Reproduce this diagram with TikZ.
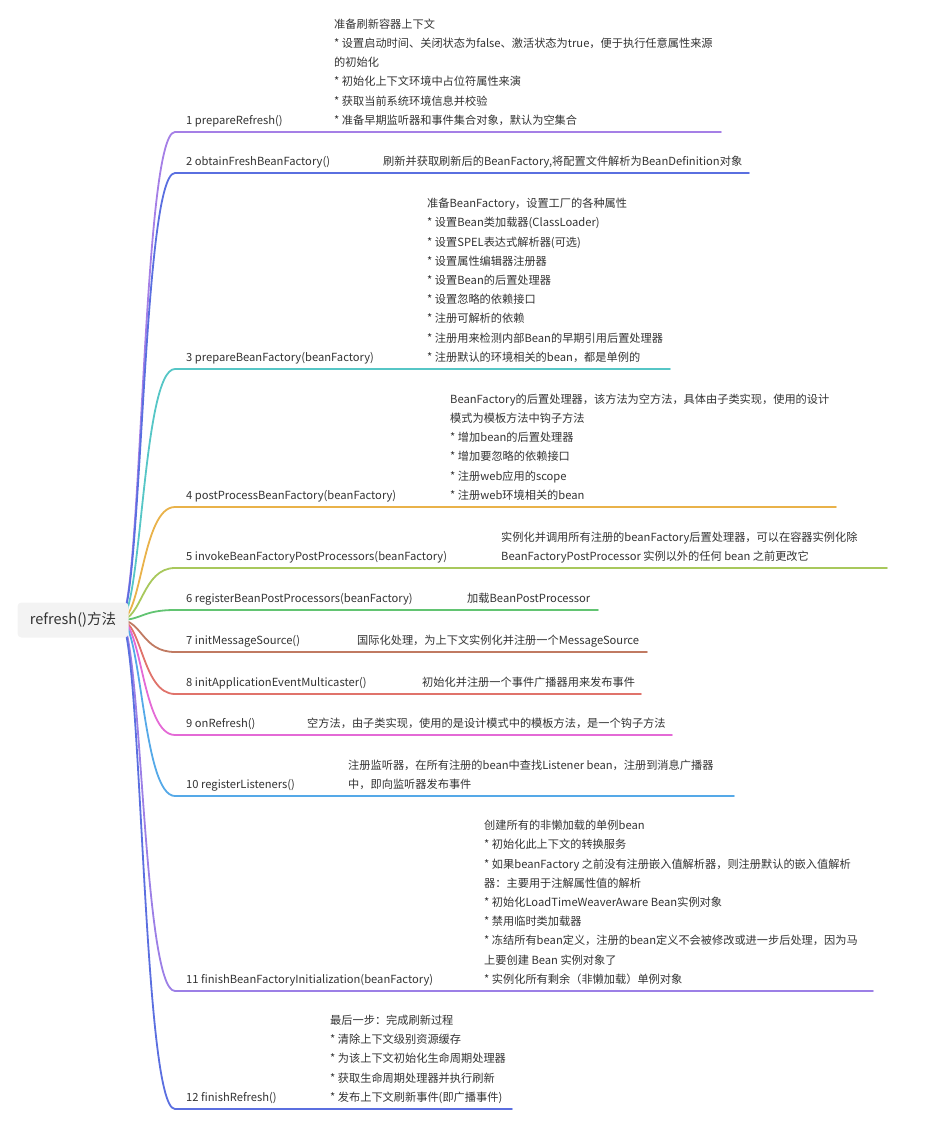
\documentclass[tikz,border=0pt]{standalone}
\usepackage{fontspec}
\setmainfont{Noto Sans CJK SC}
\definecolor{txt}{HTML}{333333}
\definecolor{rootbg}{HTML}{F3F3F3}
\definecolor{c1}{HTML}{A57FE6}
\definecolor{c2}{HTML}{5A6FE0}
\definecolor{c3}{HTML}{56C6C6}
\definecolor{c4}{HTML}{E9B24A}
\definecolor{c5}{HTML}{A8C85C}
\definecolor{c6}{HTML}{62C472}
\definecolor{c7}{HTML}{C07A62}
\definecolor{c8}{HTML}{E0736B}
\definecolor{c9}{HTML}{E46AD6}
\definecolor{c10}{HTML}{55A9E8}
\definecolor{c11}{HTML}{9C7FE6}
\definecolor{c12}{HTML}{5B6FE0}
\tikzset{
  br/.style={line width=1.8pt, line cap=round},
  lbl/.style={anchor=south west, inner sep=0pt, text=txt, align=left,
    font=\fontsize{11.2}{19.2}\selectfont},
  rootbox/.style={fill=rootbg, rounded corners=4pt, inner sep=0pt,
    minimum width=111pt, minimum height=35pt, text=txt,
    font=\fontsize{14.5}{18}\selectfont}
}
\begin{document}
\begin{tikzpicture}[x=1pt,y=-1pt]
\useasboundingbox (0,0) rectangle (936,1126);
\coordinate (hub) at (120,620);
% line starts / ends
\coordinate (s1) at (175,132);  \coordinate (e1) at (721,132);
\coordinate (s2) at (175,173);  \coordinate (e2) at (749,173);
\coordinate (s3) at (175,369);  \coordinate (e3) at (670,369);
\coordinate (s4) at (175,507);  \coordinate (e4) at (836,507);
\coordinate (s5) at (175,568);  \coordinate (e5) at (887,568);
\coordinate (s6) at (175,610);  \coordinate (e6) at (598,610);
\coordinate (s7) at (175,652);  \coordinate (e7) at (647,652);
\coordinate (s8) at (175,694);  \coordinate (e8) at (641,694);
\coordinate (s9) at (175,735);  \coordinate (e9) at (672,735);
\coordinate (s10) at (175,796); \coordinate (e10) at (734,796);
\coordinate (s11) at (175,991); \coordinate (e11) at (873,991);
\coordinate (s12) at (175,1109);\coordinate (e12) at (512,1109);
\foreach \i in {1,...,12}{
  \draw[br, color=c\i] (hub) .. controls +(22,0) and +(-33,0) .. (s\i) -- (e\i);
}
\node[rootbox] (root) at (73,620) {refresh()方法};
% labels
\node[lbl] (l1) at (186,130.3) {1 prepareRefresh()\strut};
\node[lbl] (l2) at (186,171.3) {2 obtainFreshBeanFactory()\strut};
\node[lbl] (l3) at (186,367.3) {3 prepareBeanFactory(beanFactory)\strut};
\node[lbl] (l4) at (186,505.3) {4 postProcessBeanFactory(beanFactory)\strut};
\node[lbl] (l5) at (186,566.3) {5 invokeBeanFactoryPostProcessors(beanFactory)\strut};
\node[lbl] (l6) at (186,608.3) {6 registerBeanPostProcessors(beanFactory)\strut};
\node[lbl] (l7) at (186,650.3) {7 initMessageSource()\strut};
\node[lbl] (l8) at (186,692.3) {8 initApplicationEventMulticaster()\strut};
\node[lbl] (l9) at (186,733.3) {9 onRefresh()\strut};
\node[lbl] (l10) at (186,794.3) {10 registerListeners()\strut};
\node[lbl] (l11) at (186,989.3) {11 finishBeanFactoryInitialization(beanFactory)\strut};
\node[lbl] (l12) at (186,1107.3) {12 finishRefresh()\strut};
% descriptions
\node[lbl] (d1) at (334,130.3) {准备刷新容器上下文\\
* 设置启动时间、关闭状态为false、激活状态为true，便于执行任意属性来源\\
的初始化\\
* 初始化上下文环境中占位符属性来演\\
* 获取当前系统环境信息并校验\\
* 准备早期监听器和事件集合对象，默认为空集合\strut};
\node[lbl] (d2) at (383,171.3) {刷新并获取刷新后的BeanFactory,将配置文件解析为BeanDefinition对象\strut};
\node[lbl] (d3) at (427,367.3) {准备BeanFactory，设置工厂的各种属性\\
* 设置Bean类加载器(ClassLoader)\\
* 设置SPEL表达式解析器(可选)\\
* 设置属性编辑器注册器\\
* 设置Bean的后置处理器\\
* 设置忽略的依赖接口\\
* 注册可解析的依赖\\
* 注册用来检测内部Bean的早期引用后置处理器\\
* 注册默认的环境相关的bean，都是单例的\strut};
\node[lbl] (d4) at (450,505.3) {BeanFactory的后置处理器，该方法为空方法，具体由子类实现，使用的设计\\
模式为模板方法中钩子方法\\
* 增加bean的后置处理器\\
* 增加要忽略的依赖接口\\
* 注册web应用的scope\\
* 注册web环境相关的bean\strut};
\node[lbl] (d5) at (501,566.3) {实例化并调用所有注册的beanFactory后置处理器，可以在容器实例化除\\
BeanFactoryPostProcessor 实例以外的任何 bean 之前更改它\strut};
\node[lbl] (d6) at (467,608.3) {加载BeanPostProcessor\strut};
\node[lbl] (d7) at (357,650.3) {国际化处理，为上下文实例化并注册一个MessageSource\strut};
\node[lbl] (d8) at (422,692.3) {初始化并注册一个事件广播器用来发布事件\strut};
\node[lbl] (d9) at (307,733.3) {空方法，由子类实现，使用的是设计模式中的模板方法，是一个钩子方法\strut};
\node[lbl] (d10) at (348,794.3) {注册监听器，在所有注册的bean中查找Listener bean，注册到消息广播器\\
中，即向监听器发布事件\strut};
\node[lbl] (d11) at (484,989.3) {创建所有的非懒加载的单例bean\\
* 初始化此上下文的转换服务\\
* 如果beanFactory 之前没有注册嵌入值解析器，则注册默认的嵌入值解析\\
器：主要用于注解属性值的解析\\
* 初始化LoadTimeWeaverAware Bean实例对象\\
* 禁用临时类加载器\\
* 冻结所有bean定义，注册的bean定义不会被修改或进一步后处理，因为马\\
上要创建 Bean 实例对象了\\
* 实例化所有剩余（非懒加载）单例对象\strut};
\node[lbl] (d12) at (330,1107.3) {最后一步：完成刷新过程\\
* 清除上下文级别资源缓存\\
* 为该上下文初始化生命周期处理器\\
* 获取生命周期处理器并执行刷新\\
* 发布上下文刷新事件(即广播事件)\strut};
\end{tikzpicture}
\end{document}
